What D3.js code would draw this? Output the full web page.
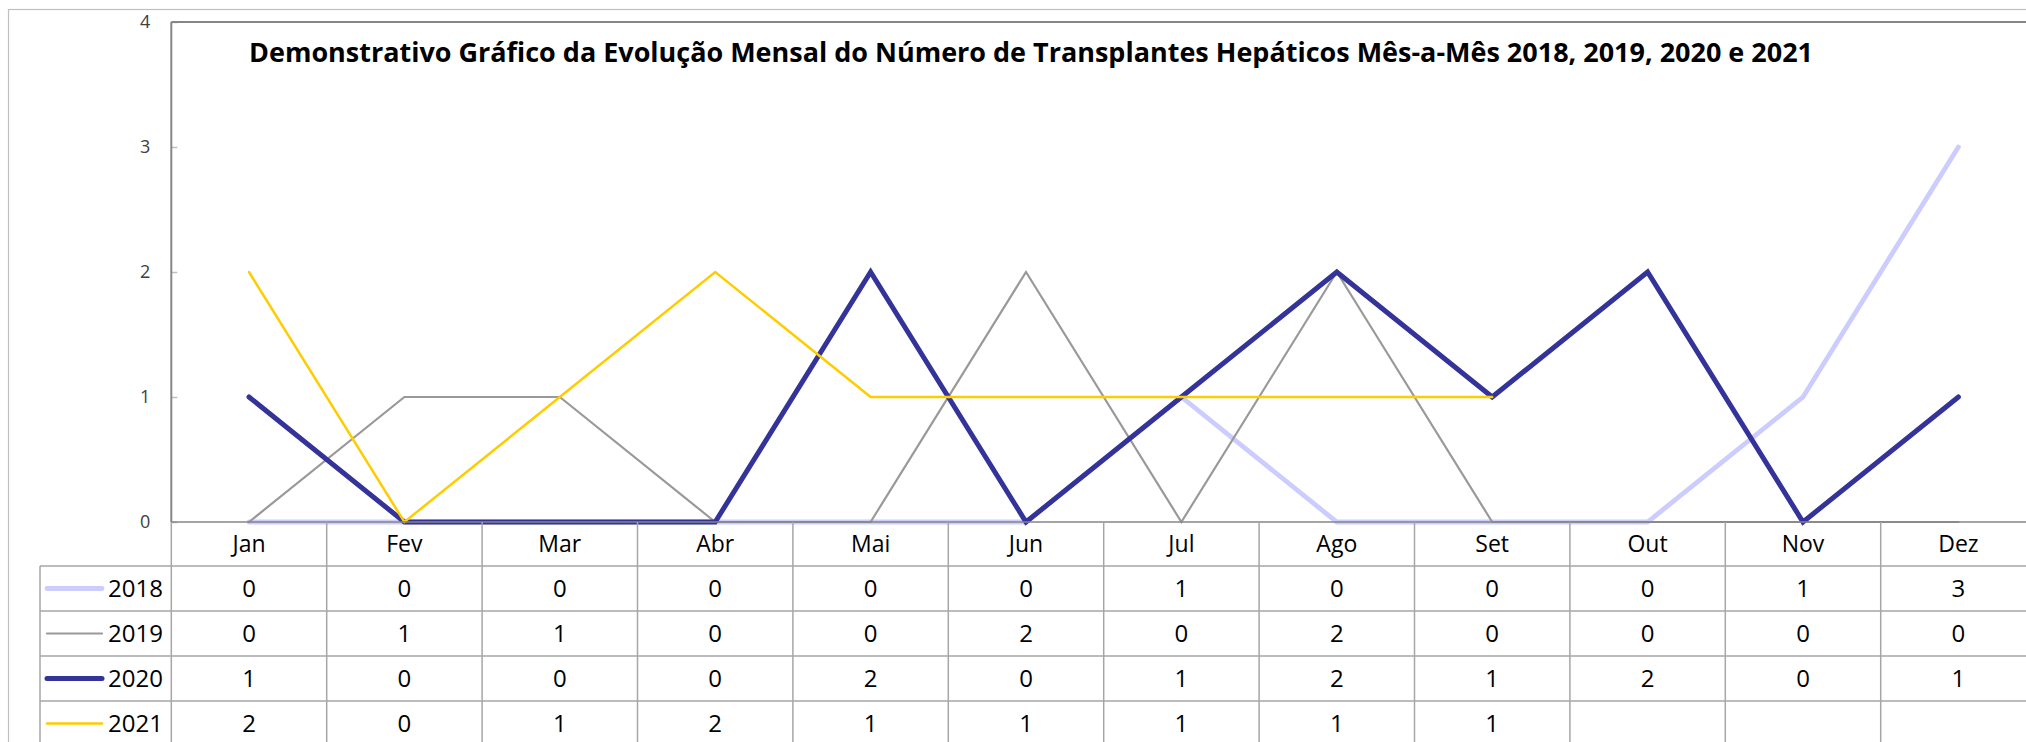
<!DOCTYPE html>
<html>
<head>
<meta charset="utf-8">
<script src="https://cdn.jsdelivr.net/npm/d3@7"></script>
<style>
  body { margin: 0; background: #fff; overflow: hidden; }
  svg { display: block; font-family: "Open Sans", sans-serif; }
</style>
</head>
<body>
<svg id="chart"></svg>
<script>
// Data
const months = ["Jan", "Fev", "Mar", "Abr", "Mai", "Jun", "Jul", "Ago", "Set", "Out", "Nov", "Dez"];
const years = ["2018", "2019", "2020", "2021"];
const values2018 = [0, 0, 0, 0, 0, 0, 1, 0, 0, 0, 1, 3];
const values2019 = [0, 1, 1, 0, 0, 2, 0, 2, 0, 0, 0, 0];
const values2020 = [1, 0, 0, 0, 2, 0, 1, 2, 1, 2, 0, 1];
const values2021 = [2, 0, 1, 2, 1, 1, 1, 1, 1, null, null, null];
const yTicks = [0, 1, 2, 3, 4];
const title = "Demonstrativo Gráfico da Evolução Mensal do Número de Transplantes Hepáticos Mês-a-Mês 2018, 2019, 2020 e 2021";

const series = [
  { name: years[0], values: values2018, color: "#ccccff", width: 4.8 },
  { name: years[1], values: values2019, color: "#999999", width: 2.2 },
  { name: years[2], values: values2020, color: "#333399", width: 5 },
  { name: years[3], values: values2021, color: "#ffcc00", width: 2.5 }
];

// Layout
const width = 2026, height = 742;
const plotLeft = 171.3, plotTop = 22, plotBottom = 522;
const colWidth = 155.4;
const headerH = 44, rowH = 45;
const tableLeft = 40;
const gridColor = "#a6a6a6";

const svg = d3.select("#chart")
  .attr("width", width)
  .attr("height", height);

// Scales
const x = d3.scaleBand()
  .domain(months)
  .range([plotLeft, plotLeft + colWidth * months.length]);

const y = d3.scaleLinear()
  .domain([0, 4])
  .range([plotBottom, plotTop]);

// Outer chart border
svg.append("rect")
  .attr("x", 8.5).attr("y", 9.5)
  .attr("width", width + 20).attr("height", height + 20)
  .attr("fill", "none")
  .attr("stroke", "#bfbfbf")
  .attr("stroke-width", 1.2);

// Y axis (ticks point inward)
const yAxis = svg.append("g")
  .attr("transform", `translate(${plotLeft},0)`)
  .call(d3.axisLeft(y).tickValues(yTicks).tickSizeInner(-6).tickSizeOuter(0).tickPadding(21).tickFormat(d3.format("d")));
yAxis.select(".domain").remove();
yAxis.selectAll(".tick line").attr("stroke", "#bfbfbf").attr("stroke-width", 1.5);
yAxis.selectAll(".tick text")
  .attr("font-family", "Open Sans, sans-serif")
  .attr("font-size", 18)
  .attr("fill", "#404040");

// Title
svg.append("text")
  .attr("x", 249)
  .attr("y", 62)
  .attr("font-size", 26)
  .attr("font-weight", "bold")
  .attr("textLength", 1564)
  .attr("lengthAdjust", "spacingAndGlyphs")
  .attr("fill", "#000")
  .text(title);

// Lines
const line = d3.line()
  .defined(d => d != null)
  .x((d, i) => x(months[i]) + x.bandwidth() / 2)
  .y(d => y(d));

svg.append("g")
  .selectAll("path")
  .data(series)
  .join("path")
  .attr("d", d => line(d.values))
  .attr("fill", "none")
  .attr("stroke", d => d.color)
  .attr("stroke-width", d => d.width)
  .attr("stroke-linecap", "round");

// Plot area frame (top, left, bottom)
const frame = svg.append("g")
  .attr("stroke", "#868686")
  .attr("stroke-width", 2)
  .attr("fill", "none");
frame.append("line")
  .attr("x1", plotLeft).attr("x2", width + 10)
  .attr("y1", plotTop).attr("y2", plotTop);
frame.append("line")
  .attr("x1", plotLeft).attr("x2", plotLeft)
  .attr("y1", plotTop).attr("y2", plotBottom);
frame.append("line")
  .attr("x1", plotLeft).attr("x2", width + 10)
  .attr("y1", plotBottom).attr("y2", plotBottom)
  .attr("stroke-width", 1.6);

// Data table grid
const tableTop = plotBottom + headerH;
const tableBottom = tableTop + rowH * years.length;
const grid = svg.append("g")
  .attr("stroke", gridColor)
  .attr("stroke-width", 1.5);

// vertical column lines
grid.selectAll("line.col")
  .data(months)
  .join("line")
  .attr("class", "col")
  .attr("x1", d => x(d)).attr("x2", d => x(d))
  .attr("y1", plotBottom).attr("y2", tableBottom);
grid.append("line")
  .attr("x1", tableLeft).attr("x2", tableLeft)
  .attr("y1", tableTop).attr("y2", tableBottom);

// horizontal row lines
grid.selectAll("line.row")
  .data(d3.range(years.length + 1))
  .join("line")
  .attr("class", "row")
  .attr("x1", tableLeft).attr("x2", width + 10)
  .attr("y1", i => tableTop + i * rowH)
  .attr("y2", i => tableTop + i * rowH);

// Header row labels
svg.append("g")
  .selectAll("text")
  .data(months)
  .join("text")
  .attr("x", d => x(d) + x.bandwidth() / 2)
  .attr("y", plotBottom + headerH / 2 + 8)
  .attr("text-anchor", "middle")
  .attr("font-size", 23)
  .attr("fill", "#000")
  .text(d => d);

// Table rows
const rows = svg.append("g")
  .selectAll("g")
  .data(series)
  .join("g")
  .attr("transform", (d, i) => `translate(0,${tableTop + i * rowH + rowH / 2})`);

rows.append("line")
  .attr("x1", 47).attr("x2", 102)
  .attr("y1", 0).attr("y2", 0)
  .attr("stroke", d => d.color)
  .attr("stroke-width", d => d.width)
  .attr("stroke-linecap", "round");

rows.append("text")
  .attr("x", 163)
  .attr("y", 8.5)
  .attr("text-anchor", "end")
  .attr("font-size", 24)
  .attr("fill", "#000")
  .text(d => d.name);

rows.selectAll("text.val")
  .data(d => d.values)
  .join("text")
  .attr("class", "val")
  .attr("x", (v, i) => x(months[i]) + x.bandwidth() / 2)
  .attr("y", 8.5)
  .attr("text-anchor", "middle")
  .attr("font-size", 24)
  .attr("fill", "#000")
  .text(v => v == null ? "" : v);
</script>
</body>
</html>
